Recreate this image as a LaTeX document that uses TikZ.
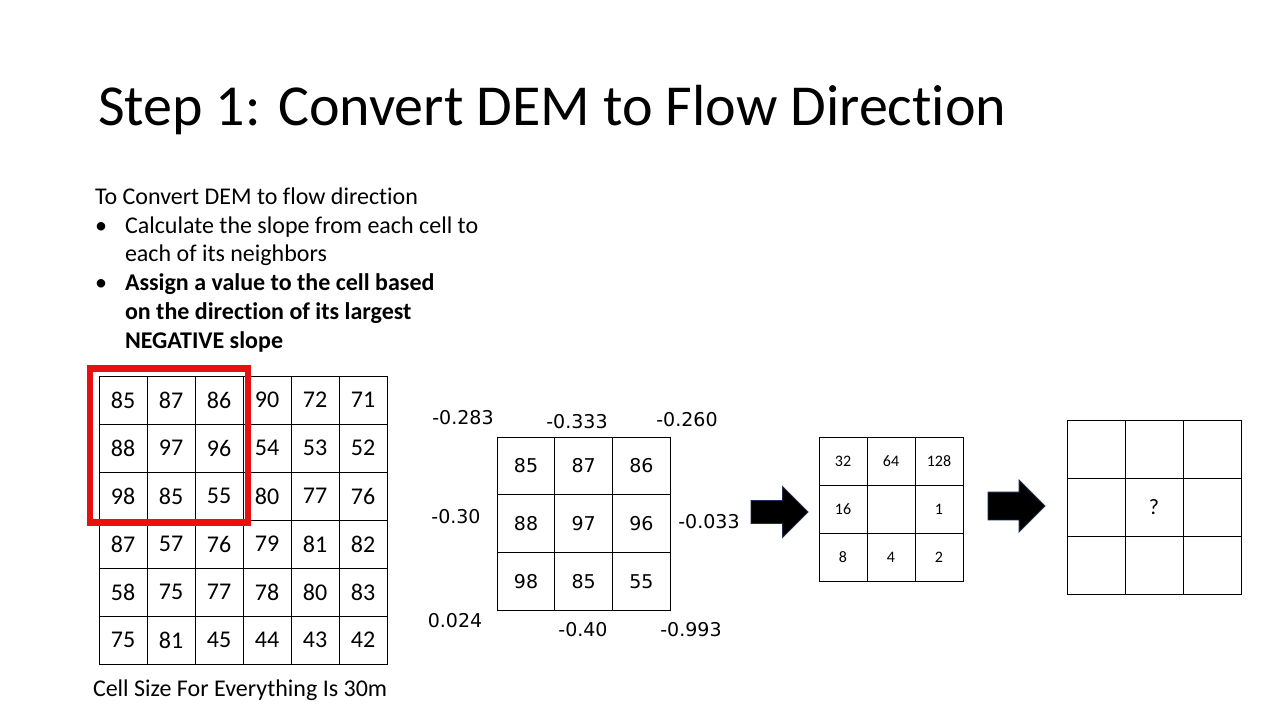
\documentclass[tikz,border=0pt]{standalone}
\usepackage{fontspec}
\setmainfont{Carlito}[Ligatures=NoCommon]
\newfontfamily\dejavu{DejaVu Sans}
\usetikzlibrary{shapes.arrows,positioning}
\definecolor{slidered}{RGB}{232,17,17}
\definecolor{arrowedge}{RGB}{31,45,80}
\newcommand{\px}[1]{\fontsize{#1pt}{#1pt}\selectfont}

\begin{document}
\begin{tikzpicture}[x=1pt,y=-1pt,
  every node/.style={inner sep=0pt,outer sep=0pt},
  demcell/.style={draw,line width=1pt,minimum size=48pt,font=\px{24}},
  slopecell/.style={draw,line width=1pt,minimum size=57.7pt,font=\dejavu\px{19}},
  slopelabel/.style={font=\dejavu\px{19}},
  dircell/.style={draw,line width=1pt,minimum size=48pt,font=\px{16}},
  outcell/.style={draw,line width=1pt,minimum size=58pt,font=\px{22}},
  bodyline/.style={anchor=base west,font=\px{24}},
  blockarrow/.style={single arrow,fill=black,draw=arrowedge,line width=0.8pt,
    single arrow tip angle=90,minimum height=57pt,inner xsep=0pt,anchor=tip}]
  \useasboundingbox (0,0) rectangle (1280,720);
  \fill[white] (0,0) rectangle (1280,720);

  % title
  \node[anchor=base west,font=\px{58}] (title) at (98,125) {Step 1: Convert DEM to Flow Direction};

  % text block
  \node[bodyline] (intro) at (95,204) {To Convert DEM to flow direction};
  \node[bodyline] (bulA) at (95,233) {\textbullet};
  \node[bodyline] (calcA) at (125,233) {Calculate the slope from each cell to};
  \node[bodyline] (calcB) at (125,261) {each of its neighbors};
  \node[bodyline] (bulB) at (95,290) {\textbullet};
  \node[bodyline,font=\px{24}\bfseries] (assignA) at (125,290) {Assign a value to the cell based};
  \node[bodyline,font=\px{24}\bfseries] (assignB) at (125,319) {on the direction of its largest};
  \node[bodyline,font=\px{24}\bfseries] (assignC) at (125,348) {NEGATIVE slope};

  % DEM grid
  \foreach \row/\vals in {1/{85,87,86,90,72,71},2/{88,97,96,54,53,52},3/{98,85,55,80,77,76},
                         4/{87,57,76,79,81,82},5/{58,75,77,78,80,83},6/{75,81,45,44,43,42}}{
    \foreach \v [count=\col] in \vals{
      \node[demcell] (dem-\row-\col) at ({75+48*\col},{352+48*\row}) {\v};
    }
  }
  \draw[slidered,line width=6.5pt] (90,368.5) rectangle (248,522.5);
  \node[anchor=base west,font=\px{24}] (cellsize) at (93,696) {Cell Size For Everything Is 30m};

  % 3x3 window with slopes
  \foreach \row/\vals in {1/{85,87,86},2/{88,97,96},3/{98,85,55}}{
    \foreach \v [count=\col] in \vals{
      \node[slopecell] (win-\row-\col) at ({468.3+57.7*\col},{408.2+57.7*\row}) {\v};
    }
  }
  \node[slopelabel] (sNW) at (463,418) {-0.283};
  \node[slopelabel] (sN) at (577,422) {-0.333};
  \node[slopelabel] (sNE) at (687,420) {-0.260};
  \node[slopelabel] (sW) at (456,517) {-0.30};
  \node[slopelabel] (sE) at (709,522) {-0.033};
  \node[slopelabel] (sSW) at (455,621) {0.024};
  \node[slopelabel] (sS) at (583,630) {-0.40};
  \node[slopelabel] (sSE) at (691,630) {-0.993};

  % direction codes
  \foreach \row/\vals in {1/{32,64,128},2/{16,,1},3/{8,4,2}}{
    \foreach \v [count=\col] in \vals{
      \node[dircell] (dir-\row-\col) at ({795+48*\col},{413+48*\row}) {\v};
    }
  }

  % result grid
  \foreach \row in {1,2,3}{
    \foreach \col in {1,2,3}{
      \node[outcell] (out-\row-\col) at ({1038+58*\col},{391+58*\row}) {};
    }
  }
  \node[font=\px{22}] (unknown) at (out-2-2) {?};

  % block arrows
  \node[blockarrow,inner ysep=11pt,single arrow head extend=14pt] (arrA) at (808,512) {};
  \node[blockarrow,inner ysep=13.5pt,single arrow head extend=12pt] (arrB) at (1045,506) {};
\end{tikzpicture}
\end{document}
